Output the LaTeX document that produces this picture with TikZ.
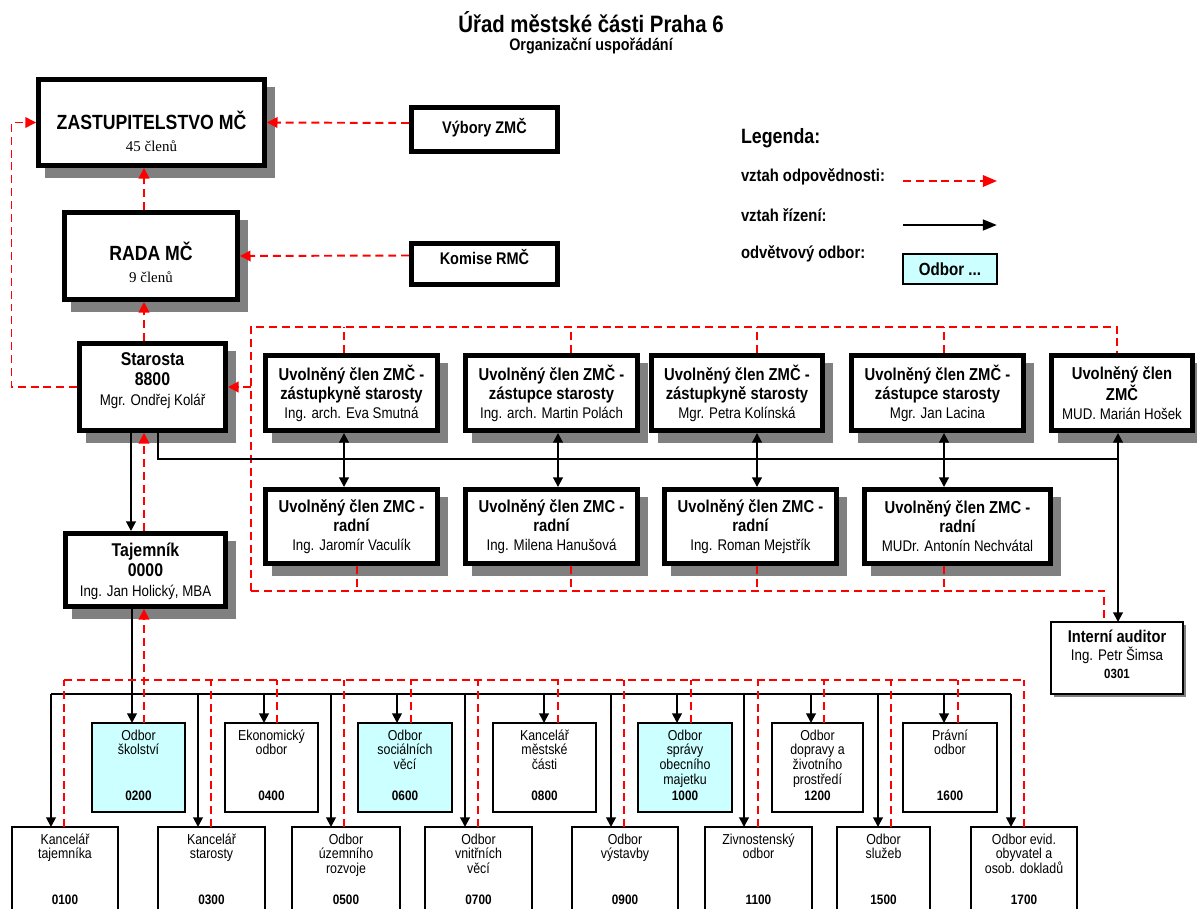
\documentclass[tikz,border=0pt]{standalone}
\usepackage{fontspec}
\setmainfont{Liberation Sans}[FakeStretch=0.86]
\newfontfamily\serifnum{Liberation Serif}
\usetikzlibrary{arrows.meta,shadows}
\definecolor{odpred}{RGB}{255,0,0}
\definecolor{stin}{RGB}{128,128,128}
\definecolor{odvetvi}{RGB}{204,255,255}
\newcommand{\pxu}{0.02cm}
\newcommand{\fsz}[2]{\fontsize{#1}{#2}\selectfont}
\newcommand{\jm}[1]{{\fsz{8.8}{10.8}\mdseries #1}}
\newcommand{\odbor}[8][white]{%
  \node[odb, fill=#1, sz={#5}{#6}] (#2) at (#3,#4) {};
  \node[odbt] (#2t) at ([yshift=-3*\pxu]#2.north) {\rule{0pt}{8pt}#7};
  \node[odbn] (#2n) at ([yshift=-77*\pxu]#2.north) {#8};}

\begin{document}
\begin{tikzpicture}[x=0.02cm, y=-0.02cm,
  every node/.style={inner sep=0pt, outer sep=0pt},
  sz/.style 2 args={minimum width=#1*\pxu, minimum height=#2*\pxu},
  tbox/.style={draw, line width=2.8pt, fill=white, outer sep=1.4pt},
  stinbox/.style={general shadow={fill=stin, draw=stin, line width=2.8pt, shadow xshift=0.17cm, shadow yshift=-0.2cm}},
  hlav/.style={align=center, font=\fsz{11.7}{12.5}\bfseries},
  osoba/.style={align=center, font=\fsz{10.5}{11.3}\bfseries},
  clen/.style={tbox, stinbox, sz={172}{75}, align=center, font=\fsz{9.8}{10.8}\bfseries},
  respl/.style={draw=odpred, line width=1.1pt, dash pattern=on 4.5pt off 2.8pt},
  resp/.style={respl, -{Triangle[length=6pt, width=6pt]}},
  ctrll/.style={draw=black, line width=1.1pt},
  ctrl/.style={ctrll, -{Triangle[length=5.5pt, width=5.5pt]}},
  dbl/.style={ctrll, {Triangle[length=5.5pt, width=5.5pt]}-{Triangle[length=5.5pt, width=5.5pt]}},
  tenka/.style={draw=black, line width=0.7pt},
  odb/.style={draw, line width=0.6pt, anchor=north west},
  odbt/.style={anchor=north, align=center, font=\fsz{8.2}{8.5}},
  odbn/.style={anchor=base, font=\fsz{7.8}{9}\bfseries},
  leg/.style={anchor=west, font=\fsz{9.8}{11}\bfseries}]
  \useasboundingbox (0,0) rectangle (1197,909);

  % nadpis
  \node[font=\fsz{13.5}{15}\bfseries] (titul) at (591,22) {Úřad městské části Praha 6};
  \node[font=\fsz{9.5}{11}\bfseries] (podtitul) at (591,46) {Organizační uspořádání};

  % zastupitelstvo a rada
  \node[tbox, stinbox, sz={226}{86}] (zast) at (151.5,122.5) {};
  \node[hlav] (zastt) at ([yshift=-8.5*\pxu]zast.center) {ZASTUPITELSTVO MČ\\{\serifnum\mdseries\fsz{8.5}{10}45 členů}};
  \node[tbox, stinbox, sz={173}{87}] (rada) at (151,256) {};
  \node[hlav] (radat) at ([yshift=-6*\pxu]rada.center) {RADA MČ\\{\serifnum\mdseries\fsz{8.5}{10}9 členů}};
  \node[tbox, sz={146}{44}] (vybory) at (484.5,129.5) {};
  \node[font=\fsz{9.6}{11}\bfseries] (vyboryt) at ([yshift=1.5*\pxu]vybory.center) {Výbory ZMČ};
  \node[tbox, sz={146}{41}] (komise) at (484.5,264) {};
  \node[font=\fsz{9.6}{11}\bfseries] (komiset) at ([yshift=7*\pxu]komise.center) {Komise RMČ};

  % starosta a tajemnik
  \node[tbox, stinbox, sz={146}{87}] (starosta) at (152.5,387) {};
  \node[osoba] (starostat) at ([yshift=6*\pxu]starosta.center) {Starosta\\8800\\\jm{Mgr. Ondřej Kolář}};
  \node[tbox, stinbox, sz={160}{73}] (tajemnik) at (145.5,570) {};
  \node[osoba] (tajemnikt) at ([yshift=-1.5*\pxu]tajemnik.center) {Tajemník\\0000\\\jm{Ing. Jan Holický, MBA}};

  % uvolneni clenove
  \node[clen] (u1) at (351.5,393) {Uvolněný člen ZMČ -\\zástupkyně starosty\\\jm{Ing. arch. Eva Smutná}};
  \node[clen] (u2) at (551.5,393) {Uvolněný člen ZMČ -\\zástupce starosty\\\jm{Ing. arch. Martin Polách}};
  \node[clen, sz={171}{75}] (u3) at (737,393) {Uvolněný člen ZMČ -\\zástupkyně starosty\\\jm{Mgr. Petra Kolínská}};
  \node[clen] (u4) at (937.5,393) {Uvolněný člen ZMČ -\\zástupce starosty\\\jm{Mgr. Jan Lacina}};
  \node[clen, sz={141}{75}] (u5) at (1122,393) {Uvolněný člen\\ZMČ\\\jm{MUD. Marián Hošek}};
  \node[clen, sz={172}{74}] (l1) at (351.5,526.5) {Uvolněný člen ZMC -\\radní\\\jm{Ing. Jaromír Vaculík}};
  \node[clen, sz={172}{74}] (l2) at (551.5,526.5) {Uvolněný člen ZMC -\\radní\\\jm{Ing. Milena Hanušová}};
  \node[clen, sz={172}{74}] (l3) at (750.5,526.5) {Uvolněný člen ZMC -\\radní\\\jm{Ing. Roman Mejstřík}};
  \node[clen, sz={186}{74}] (l4) at (957.5,526.5) {Uvolněný člen ZMC -\\radní\\\jm{MUDr. Antonín Nechvátal}};

  % auditor
  \node[draw, line width=0.8pt, fill=white, general shadow={fill=stin, shadow xshift=0.06cm, shadow yshift=-0.06cm}, sz={132}{72}] (auditor) at (1117,658) {};
  \node[align=center, font=\fsz{9.7}{10.3}\bfseries] (auditort) at ([yshift=4*\pxu]auditor.center) {Interní auditor\\\jm{Ing. Petr Šimsa}\\{\fsz{7.6}{8.5}0301}};

  % vztahy nahore
  \draw[resp] ([yshift=6.5*\pxu]vybory.west) -- (zast.east);
  \draw[resp] ([yshift=8.5*\pxu]komise.west) -- (rada.east);
  \draw[resp] (rada.north -| 144,0) -- (zast.south -| 144,0);
  \draw[resp] (starosta.north -| 144,0) -- (rada.south -| 144,0);
  \draw[resp, line width=0.8pt] (starosta.west) -| (11.5,0 |- zast.west) -- (zast.west);
  \draw[ctrl] (starosta.south -| 131,0) -- (tajemnik.north -| 131,0);
  \draw[resp] (tajemnik.north -| 144,0) -- (starosta.south -| 144,0);

  % ramecek uvolnenych clenu
  \coordinate (rtop) at (251,327);
  \coordinate (rbot) at (251,591);
  \coordinate (uzel) at (1118,459);
  \draw[respl] (rbot) -- (rtop) -| (u5.north -| 1117,0);
  \draw[resp] (rtop |- starosta.east) -- (starosta.east);
  \foreach \nm/\x in {u1/344,u2/571,u3/757,u4/944}
    \draw[respl] (\nm.north -| \x,0) -- (\x,0 |- rtop);
  \draw[respl] (rbot) -| (auditor.north -| 1104,0);
  \foreach \nm/\x in {l1/357,l2/571,l3/757,l4/944}
    \draw[respl] (\nm.south -| \x,0) -- (\x,0 |- rbot);
  \draw[tenka] (starosta.south -| 158,0) |- (uzel);
  \foreach \nm/\nn/\x in {u1/l1/344,u2/l2/558,u3/l3/757,u4/l4/944}
    \draw[dbl] (\nm.south -| \x,0) -- (\nn.north -| \x,0);
  \draw[dbl] (u5.south -| 1118,0) -- (auditor.north -| 1118,0);

  % odbory
  \odbor[odvetvi]{o200}{92}{723}{93}{89}{Odbor\\školství}{0200}
  \odbor{o400}{225}{723}{93}{89}{Ekonomický\\odbor}{0400}
  \odbor[odvetvi]{o600}{358}{723}{94}{89}{Odbor\\sociálních\\věcí}{0600}
  \odbor{o800}{493}{723}{103}{89}{Kancelář\\městské\\části}{0800}
  \odbor[odvetvi]{o1000}{638}{723}{94}{89}{Odbor\\správy\\obecního\\majetku}{1000}
  \odbor{o1200}{772}{723}{91}{89}{Odbor\\dopravy a\\životního\\prostředí}{1200}
  \odbor{o1600}{903}{723}{94}{89}{Právní\\odbor}{1600}
  \odbor{k100}{12}{827}{106}{100}{Kancelář\\tajemníka}{0100}
  \odbor{k300}{158}{827}{107}{100}{Kancelář\\starosty}{0300}
  \odbor{o500}{292}{827}{108}{100}{Odbor\\územního\\rozvoje}{0500}
  \odbor{o700}{425}{827}{107}{100}{Odbor\\vnitřních\\věcí}{0700}
  \odbor{o900}{572}{827}{106}{100}{Odbor\\výstavby}{0900}
  \odbor{o1100}{705}{827}{107}{100}{Zivnostenský\\odbor}{1100}
  \odbor{o1500}{837}{827}{93}{100}{Odbor\\služeb}{1500}
  \odbor{o1700}{971}{827}{106}{100}{Odbor evid.\\obyvatel a\\osob. dokladů}{1700}

  % sbernice k odborum
  \coordinate (bbus) at (51,694);
  \coordinate (rbus) at (64,680);
  \draw[tenka] (tajemnik.south -| 132,0) -- (132,0 |- bbus);
  \draw[tenka] (bbus) -- (bbus -| 1011,0);
  \draw[ctrl] (132,0 |- bbus) -- (o200.north -| 132,0);
  \foreach \nm/\x in {k100/51,k300/198,o400/264,o500/331,o600/397,o700/465,o800/544,o900/611,o1000/677,o1100/744,o1200/811,o1500/878,o1600/944,o1700/1011}
    \draw[ctrl] (\x,0 |- bbus) -- (\nm.north -| \x,0);
  \draw[respl] (rbus) -- (rbus -| 1024,0);
  \foreach \nm/\x in {k100/64,k300/211,o400/277,o500/344,o600/411,o700/478,o800/558,o900/624,o1000/691,o1100/758,o1200/824,o1500/891,o1600/958,o1700/1024}
    \draw[respl] (\nm.north -| \x,0) -- (\x,0 |- rbus);
  \draw[resp] (o200.north -| 144,0) -- (tajemnik.south -| 144,0);

  % legenda
  \node[leg, font=\fsz{11.8}{13}\bfseries] (legenda) at (741,138) {Legenda:};
  \node[leg] (legodp) at (741,177) {vztah odpovědnosti:};
  \node[leg] (legriz) at (741,215) {vztah řízení:};
  \node[leg] (legodb) at (741,254) {odvětvový odbor:};
  \coordinate (odpA) at (903,181);
  \coordinate (odpB) at (997,181);
  \coordinate (rizA) at (903,225);
  \coordinate (rizB) at (997,225);
  \draw[respl, -{Triangle[length=8pt, width=6.5pt]}] (odpA) -- (odpB);
  \draw[ctrll, line width=1.5pt, -{Triangle[length=8pt, width=6pt]}] (rizA) -- (rizB);
  \node[draw, line width=0.8pt, fill=odvetvi, sz={94}{30}, font=\fsz{10}{12}\bfseries] (legbox) at (950,269) {Odbor ...};
\end{tikzpicture}
\end{document}
